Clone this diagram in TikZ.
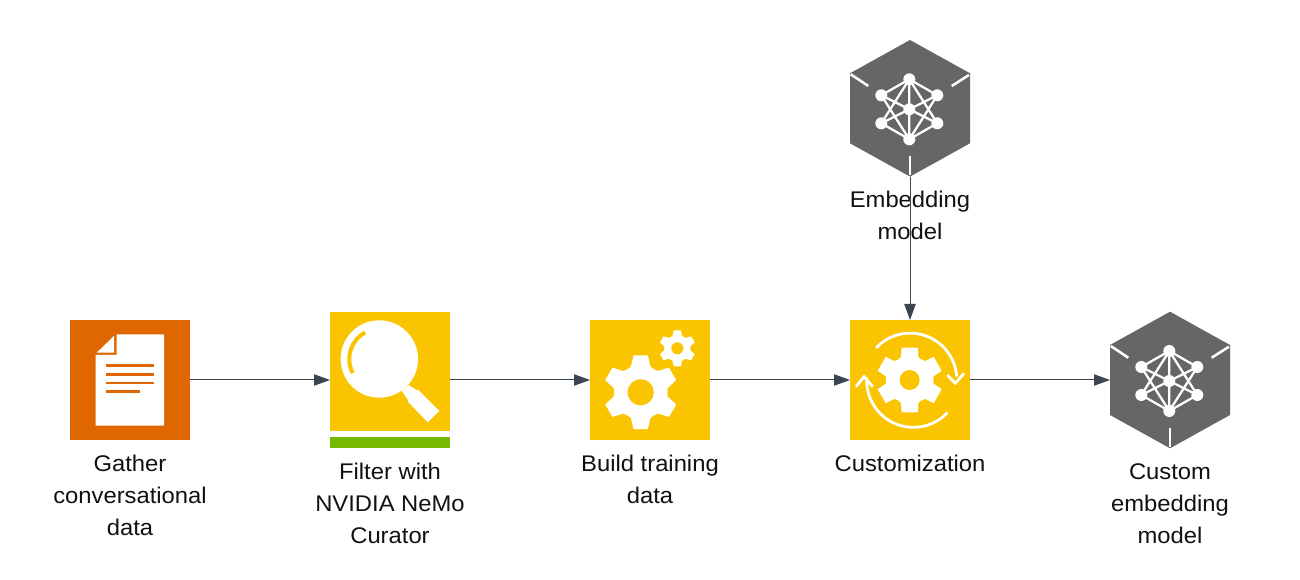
\documentclass[tikz,border=0pt]{standalone}
\usepackage{fontspec}
\setmainfont[FakeStretch=1.05]{Liberation Sans}
\usetikzlibrary{arrows.meta,calc}
\definecolor{nvyellow}{HTML}{FAC500}
\definecolor{nvorange}{HTML}{E06600}
\definecolor{nvgray}{HTML}{666666}
\definecolor{nvgreen}{HTML}{76B900}
\definecolor{conn}{HTML}{3B4552}
\definecolor{labelink}{HTML}{111111}
\tikzset{
  x=0.75pt,y=-0.75pt,
  iconbox/.style={minimum width=90pt,minimum height=90pt,inner sep=0pt,outer sep=0pt},
  tallbox/.style={minimum width=90pt,minimum height=102.5pt,inner sep=0pt,outer sep=0pt},
  lbl/.style={font=\fontsize{17}{24}\selectfont,align=center,inner sep=0pt,outer sep=0pt,text=labelink},
  link/.style={draw=conn,line width=0.75pt,-{Triangle[length=12pt,width=8.5pt]}},
  notch/.style={draw=white,line width=1.9pt},
  netline/.style={draw=white,line width=1.7pt},
  cyclearc/.style={draw=white,line width=2.1pt},
}
\newcommand{\gearicon}[5]{% cx cy R tooth-half-angle hole-ratio
  \begin{scope}[shift={(#1,#2)}]
    \fill[white] ({30-#4}:#3)
      \foreach \a in {30,90,...,330} {
        -- ({\a-#4}:#3) -- ({\a+#4}:#3) -- ({\a+21}:0.73*#3) -- ({\a+30}:0.71*#3) -- ({\a+39}:0.73*#3)
      } -- cycle;
    \fill[nvyellow] (0,0) circle[radius=#5*#3];
  \end{scope}}
\newcommand{\netcube}[2]{% cx cy of the hexagon
  \begin{scope}[shift={(#1,#2)}]
    \fill[nvgray] (0,-68.3) -- (60,-35) -- (60,35) -- (0,68.3) -- (-60,35) -- (-60,-35) -- cycle;
    \draw[notch] (-59.3,-34) -- (-41.7,-22.3);
    \draw[notch] (59,-33.3) -- (41.7,-22.3);
    \draw[notch] (0,47.7) -- (0,66.7);
    \begin{scope}[shift={(-0.7,1)}]
      \coordinate (t) at (0,-30); \coordinate (b) at (0,30);
      \coordinate (ul) at (-28,-14); \coordinate (ur) at (28,-14);
      \coordinate (ll) at (-28,14); \coordinate (lr) at (28,14);
      \draw[netline] (t)--(b) (ul)--(lr) (ur)--(ll) (t)--(ul) (t)--(ur) (b)--(ll) (b)--(lr)
        (t)--(ll) (t)--(lr) (b)--(ul) (b)--(ur);
      \foreach \p in {t,b,ul,ur,ll,lr} \fill[white] (\p) circle[radius=6];
      \fill[white] (0,0) circle[radius=6];
    \end{scope}
  \end{scope}}
\begin{document}
\begin{tikzpicture}
\useasboundingbox (0,0) rectangle (1300,580);
\fill[white] (0,0) rectangle (1300,580);

% main nodes
\node[iconbox,fill=nvorange] (gather) at (130,380) {};
\node[tallbox] (filter) at (390,380) {};
\node[iconbox,fill=nvyellow] (build) at (650,380) {};
\node[iconbox,fill=nvyellow] (custom) at (910,380) {};
\node[tallbox] (embed) at (910,108.3) {};
\node[tallbox] (result) at (1170,380) {};

% labels
\node[lbl] (lgather) at (130,497) {\strut Gather\\\strut conversational\\\strut data};
\node[lbl] (lfilter) at (390,505) {\strut Filter with\\\strut NVIDIA NeMo\\\strut Curator};
\node[lbl] (lbuild) at (650,481) {\strut Build training\\\strut data};
\node[lbl] (lcustom) at (910,465) {\strut Customization};
\node[lbl] (lembed) at (910,217) {\strut Embedding\\\strut model};
\node[lbl] (lresult) at (1170,505) {\strut Custom\\\strut embedding\\\strut model};

% document icon
\fill[white] (116.7,334.3) -- (164,334.3) -- (164,425.7) -- (95.7,425.7) -- (95.7,355) -- (116.7,355) -- cycle;
\fill[white] (96.7,352.7) -- (114,336) -- (114,352.7) -- cycle;
\foreach \yy/\xe in {365.7/154,374.3/154,383/154,391.7/140}
  \fill[nvorange] (105.7,\yy-1.3) rectangle (\xe,\yy+1.3);

% magnifier icon
\fill[nvyellow] (330,311.7) rectangle (450,431);
\fill[nvgreen] (330,436.7) rectangle (450,448.3);
\fill[white] (379.3,359) circle[radius=38.7];
\fill[white] (408.3,385) -- (418.3,391) -- (408,400) -- (401.7,391) -- cycle;
\fill[white] (418.3,390) -- (439.3,411) -- (427.7,422.3) -- (407.3,401) -- cycle;
\draw[nvyellow,line width=3pt] (365.2,332.5) arc[start angle=-118,end angle=-208,radius=30];

% gears
\gearicon{640.7}{392.3}{37.5}{11}{0.35}
\gearicon{677.3}{348.3}{18.3}{11}{0.33}
\gearicon{909.7}{380}{33.3}{14}{0.30}
\draw[cyclearc] (876,348) arc[start angle=-137,end angle=-4,radius=46.7];
\draw[cyclearc] (947.5,412.5) arc[start angle=43,end angle=184,radius=46.7];
\draw[cyclearc] (947.3,375) -- (955.3,383.3) -- (964,373.3);
\draw[cyclearc] (856,386.7) -- (864,376.7) -- (872.7,386.7);

% network cubes
\netcube{910}{108.3}
\netcube{1170}{380}

% connectors
\draw[link] (gather.east) -- (filter.west);
\draw[link] (filter.east) -- (build.west);
\draw[link] (build.east) -- (custom.west);
\draw[link] (custom.east) -- (result.west);
\draw[link] (embed.south) -- (custom.north);
\end{tikzpicture}
\end{document}
